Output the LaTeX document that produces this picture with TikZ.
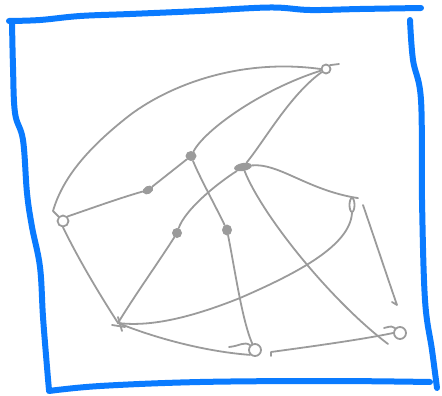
\documentclass[tikz,border=0pt]{standalone}
\usetikzlibrary{shapes.geometric}
\definecolor{sk}{RGB}{155,155,155}
\definecolor{fr}{RGB}{10,123,255}
\begin{document}
\begin{tikzpicture}[x=1pt,y=-1pt,
  edge/.style={draw=sk,line width=1.8pt,line cap=round,line join=round},
  blob/.style={ellipse,fill=sk,inner sep=0pt},
  ring/.style={circle,draw=sk,line width=1.8pt,inner sep=0pt},
  frame/.style={draw=fr,line width=6pt,line cap=round,line join=round}]
\useasboundingbox (0,0) rectangle (442,396);
% frame
\draw[frame] plot[smooth,tension=.6] coordinates {(9,21) (40,20) (80,16) (130,14) (200,11) (270,7.5) (310,10) (360,9) (421,8)};
\draw[frame] plot[smooth,tension=.6] coordinates {(12,22) (13,67) (15,113) (23,140) (27,193) (32,227) (40,267) (43,317) (47,367) (49,390)};
\draw[frame] plot[smooth,tension=.6] coordinates {(49,391) (100,386) (200,382) (330,381) (430,382)};
\draw[frame] plot[smooth,tension=.6] coordinates {(410,20) (413,60) (421,100) (422,200) (425,300) (432,350) (437,388)};
% nodes
\node[ring,minimum size=11pt] (A) at (63,221) {};
\node[ring,minimum size=9pt] (B) at (326,69) {};
\node[blob,minimum width=11pt,minimum height=8pt,rotate=30] (C) at (148,190) {};
\node[blob,minimum width=11pt,minimum height=10pt] (D) at (191,156) {};
\node[blob,minimum width=18pt,minimum height=8pt,rotate=10] (E) at (243,167) {};
\node[blob,minimum size=10pt] (F) at (177,233) {};
\node[blob,minimum width=10pt,minimum height=11pt] (G) at (227,230) {};
\node[ellipse,draw=sk,line width=1.8pt,minimum width=5pt,minimum height=14pt,inner sep=0pt] (H) at (352,205) {};
\coordinate (I) at (118,323);
\node[ring,minimum size=12pt] (J) at (255,350) {};
\node[ring,minimum size=12pt] (K) at (400,333) {};
\coordinate (L) at (397,305);
\coordinate (h1) at (363,205);
\coordinate (j1) at (271,356);
\coordinate (k1) at (388,344);
% connectors
\path[edge] (A.north west) -- (53,211) .. controls (62,180) and (85,150) .. (130,115) .. controls (170,85) and (240,58) .. (B.west);
\path[edge] (A.north east) .. controls (95,207) and (120,198) .. (C);
\path[edge] (C) -- (D);
\path[edge] (D) .. controls (205,130) and (260,90) .. (B);
\path[edge] (E) .. controls (265,140) and (290,95) .. (B);
\path[edge] (B.north east) -- (339,64);
\path[edge] (D) .. controls (200,178) and (215,205) .. (G);
\path[edge] (E) .. controls (215,185) and (185,210) .. (F);
\path[edge] (E.east) .. controls (278,163) and (305,188) .. (H.north) -- ++(6,1);
\path[edge] (E) .. controls (262,215) and (330,300) .. (k1);
\path[edge] (K.north west) .. controls (392,326) .. (384,328);
\path[edge] (A.south) .. controls (80,262) and (100,295) .. (I);
\path[edge] (F) .. controls (160,260) and (135,295) .. (I);
\path[edge] (H.south) .. controls (350,245) and (300,272) .. (240,298) .. controls (190,318) and (150,327) .. (I);
\path[edge] (112,325) -- (125,327);
\path[edge] (118,317) -- (122,331);
\path[edge] (I) .. controls (160,340) and (210,352) .. (J.south west);
\path[edge] (G) .. controls (235,270) and (242,320) .. (J);
\path[edge] (229,347) .. controls (240,346) and (244,341) .. (J.north west);
\path[edge] (j1) -- ++(0,-4) .. controls (300,348) and (360,340) .. (K.west);
\path[edge] (h1) .. controls (375,240) and (390,285) .. (L) -- ++(-5,-3);
\end{tikzpicture}
\end{document}
